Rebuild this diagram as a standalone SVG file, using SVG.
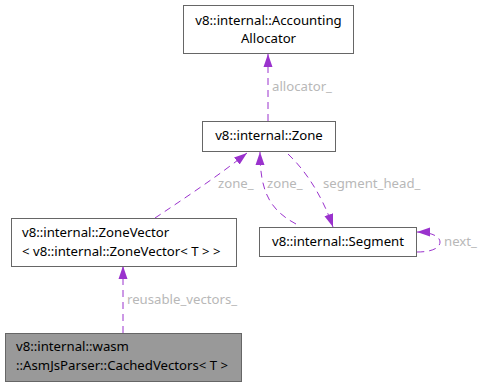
<svg xmlns="http://www.w3.org/2000/svg" width="482" height="387" viewBox="0 0 482 387">
  <style>
    .box { fill: #ffffff; stroke: #666666; stroke-width: 1; }
    .box.self { fill: #999999; }
    .ntext { font-family: "Noto Sans", "Open Sans", sans-serif; font-size: 13.2px; fill: #000000; }
    .edge { fill: none; stroke: #9a32cd; stroke-width: 1; stroke-dasharray: 7,5; }
    .elabel { font-family: "Noto Sans", "Open Sans", sans-serif; font-size: 13.2px; fill: #b8b8b8; }
  </style>
  <defs>
    <marker id="arrow" viewBox="0 0 13 10" markerWidth="13" markerHeight="10" refX="13" refY="5" orient="auto" markerUnits="userSpaceOnUse">
      <path d="M0,0.5 L13,5 L0,9.5 z" fill="#9a32cd"/>
    </marker>
  </defs>

  <rect width="482" height="387" fill="#ffffff"/>

  <!-- connectors -->
  <g id="connectors">
    <path class="edge" d="M268,121 L268,54" marker-end="url(#arrow)"/>
    <text class="elabel" x="272" y="91">allocator_</text>

    <path class="edge" d="M155,218 C185,198 218,176 247,153" marker-end="url(#arrow)"/>
    <text class="elabel" x="218" y="188">zone_</text>

    <path class="edge" d="M296,224 C270,210 260,192 260,152" marker-end="url(#arrow)"/>
    <text class="elabel" x="267" y="188">zone_</text>

    <path class="edge" d="M288,154 C305,170 322,195 333,227" marker-end="url(#arrow)"/>
    <text class="elabel" x="323" y="188">segment_head_</text>

    <path class="edge" d="M417,252 C432,252 440,248 440,242 C440,236 430,232 417,232" marker-end="url(#arrow)"/>
    <text class="elabel" x="444" y="246">next_</text>

    <path class="edge" d="M123,333 L123,266" marker-end="url(#arrow)"/>
    <text class="elabel" x="127" y="304">reusable_vectors_</text>
  </g>

  <!-- nodes -->
  <g id="node-accounting-allocator">
    <rect class="box" x="183.5" y="5.5" width="170" height="48"/>
    <text class="ntext" x="268.5" y="25" text-anchor="middle">v8::internal::Accounting</text>
    <text class="ntext" x="268.5" y="43" text-anchor="middle">Allocator</text>
  </g>

  <g id="node-zone">
    <rect class="box" x="202.5" y="121.5" width="133" height="30"/>
    <text class="ntext" x="269" y="140" text-anchor="middle">v8::internal::Zone</text>
  </g>

  <g id="node-segment">
    <rect class="box" x="259.5" y="227.5" width="157" height="29"/>
    <text class="ntext" x="338" y="246" text-anchor="middle">v8::internal::Segment</text>
  </g>

  <g id="node-zone-vector">
    <rect class="box" x="11.5" y="218.5" width="225" height="48"/>
    <text class="ntext" x="22" y="237">v8::internal::ZoneVector</text>
    <text class="ntext" x="22" y="256">&lt; v8::internal::ZoneVector&lt; T &gt; &gt;</text>
  </g>

  <g id="node-cached-vectors">
    <rect class="box self" x="5.5" y="333.5" width="236" height="48"/>
    <text class="ntext" x="16" y="351">v8::internal::wasm</text>
    <text class="ntext" x="16" y="370">::AsmJsParser::CachedVectors&lt; T &gt;</text>
  </g>
</svg>
